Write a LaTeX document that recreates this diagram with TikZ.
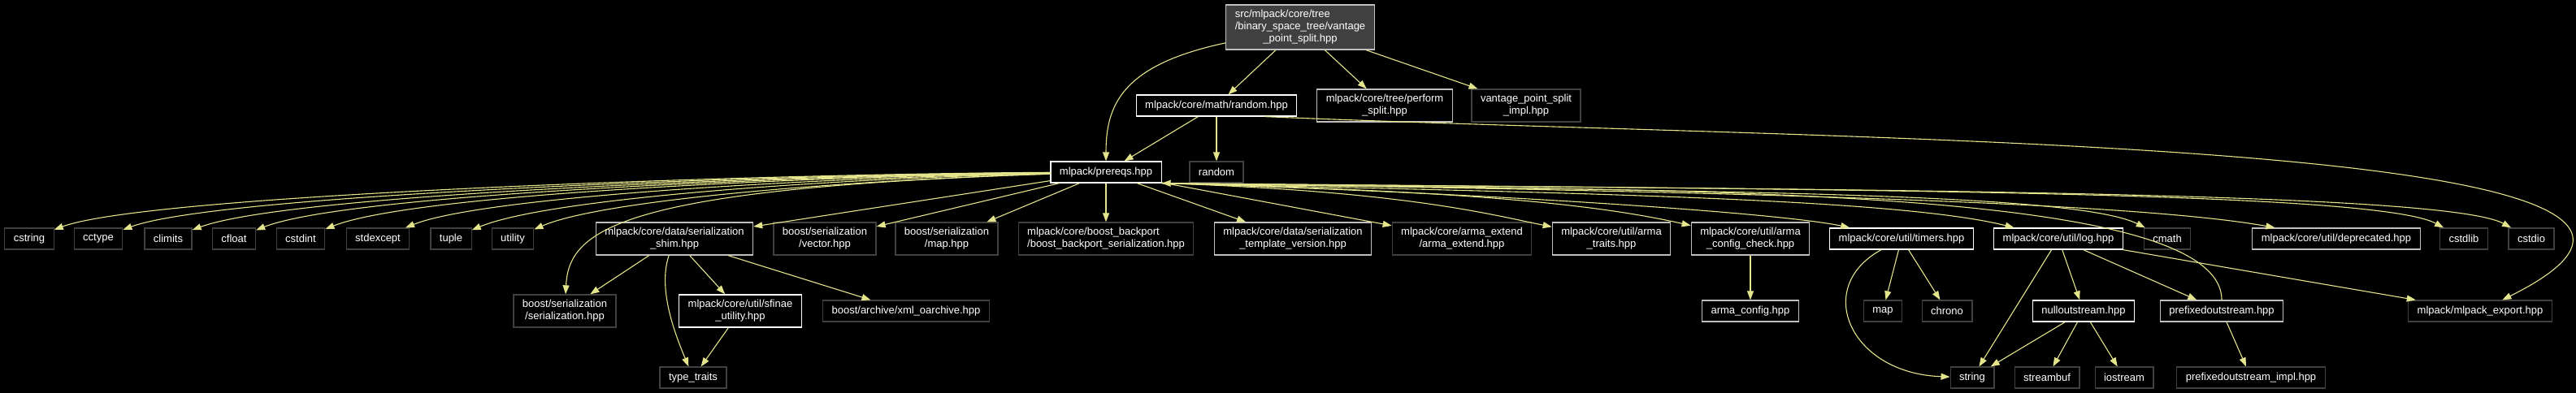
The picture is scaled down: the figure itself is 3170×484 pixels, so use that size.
\documentclass[tikz,border=0pt]{standalone}
\usepackage{fontspec}
\setmainfont{Liberation Sans}
\usetikzlibrary{arrows.meta}
\definecolor{edgecol}{RGB}{228,228,140}
\definecolor{leafgrey}{RGB}{64,64,64}
\definecolor{midgrey}{RGB}{191,191,191}

\begin{document}
\begin{tikzpicture}[x=1pt,y=-1pt,>={Triangle[length=11pt,width=8pt]},font=\fontsize{13}{15}\selectfont]
        \tikzset{box/.style={draw, fill=black, text=white, line width=1.2pt, inner xsep=11pt, inner ysep=6.5pt, minimum height=26pt, align=center},
          docbox/.style={box, draw=white},
          greybox/.style={box, draw=midgrey},
          leafbox/.style={box, draw=leafgrey},
          rootbox/.style={box, draw=midgrey, fill=leafgrey},
          dep/.style={->, draw=edgecol, line width=1.1pt}}
        \useasboundingbox (0,0) rectangle (3170,484);
        \fill[black] (0,0) rectangle (3170,484);
        % top part
        \node[rootbox] (vps) at (1600,33.5) {\rlap{src/mlpack/core/tree}\phantom{/binary\_space\_tree/vantage}\\/binary\_space\_tree/vantage\\\_point\_split.hpp};
        \node[docbox] (randomhpp) at (1497,130) {mlpack/core/math/random.hpp};
        \node[greybox] (perform) at (1704,130) {mlpack/core/tree/perform\\\_split.hpp};
        \node[leafbox] (vpsimpl) at (1878,130) {vantage\_point\_split\\\_impl.hpp};
        \node[docbox] (prereqs) at (1361,212) {mlpack/prereqs.hpp};
        \node[leafbox] (random) at (1497,212) {random};
        % includes of prereqs.hpp
        \node[leafbox] (cstring) at (36,294) {cstring};
        \node[leafbox] (cctype) at (121,294) {cctype};
        \node[leafbox] (climits) at (207,294) {climits};
        \node[leafbox] (cfloat) at (288,294) {cfloat};
        \node[leafbox] (cstdint) at (370,294) {cstdint};
        \node[leafbox] (stdexcept) at (465,294) {stdexcept};
        \node[leafbox] (tuple) at (555,294) {tuple};
        \node[leafbox] (utility) at (631,294) {utility};
        \node[greybox] (shim) at (830,294) {mlpack/core/data/serialization\\\_shim.hpp};
        \node[leafbox] (vector) at (1015,294) {boost/serialization\\/vector.hpp};
        \node[leafbox] (maphpp) at (1165,294) {boost/serialization\\/map.hpp};
        \node[leafbox] (backport) at (1361,294) {\rlap{mlpack/core/boost\_backport}\phantom{/boost\_backport\_serialization.hpp}\\/boost\_backport\_serialization.hpp};
        \node[greybox] (templver) at (1591,294) {mlpack/core/data/serialization\\\_template\_version.hpp};
        \node[leafbox] (armaext) at (1799,294) {mlpack/core/arma\_extend\\/arma\_extend.hpp};
        \node[greybox] (armatraits) at (1983,294) {mlpack/core/util/arma\\\_traits.hpp};
        \node[greybox] (armacheck) at (2154,294) {mlpack/core/util/arma\\\_config\_check.hpp};
        \node[docbox] (timers) at (2340,294) {mlpack/core/util/timers.hpp};
        \node[docbox] (log) at (2533,294) {mlpack/core/util/log.hpp};
        \node[leafbox] (cmath) at (2667,294) {cmath};
        \node[greybox] (deprecated) at (2875,294) {mlpack/core/util/deprecated.hpp};
        \node[leafbox] (cstdlib) at (3032,294) {cstdlib};
        \node[leafbox] (cstdio) at (3115,294) {cstdio};
        % third row
        \node[leafbox] (bser) at (695,383) {boost/serialization\\/serialization.hpp};
        \node[docbox] (sfinae) at (911,383) {mlpack/core/util/sfinae\\\_utility.hpp};
        \node[leafbox] (xml) at (1115,383) {boost/archive/xml\_oarchive.hpp};
        \node[greybox] (armaconfig) at (2154,383) {arma\_config.hpp};
        \node[leafbox] (map) at (2317,383) {map};
        \node[leafbox] (chrono) at (2396,383) {chrono};
        \node[docbox] (nullout) at (2564,383) {nulloutstream.hpp};
        \node[greybox] (prefixed) at (2734,383) {prefixedoutstream.hpp};
        \node[leafbox] (mlexport) at (3052,383) {mlpack/mlpack\_export.hpp};
        % bottom row
        \node[leafbox] (typetraits) at (853,465) {type\_traits};
        \node[leafbox] (string) at (2427,465) {string};
        \node[leafbox] (streambuf) at (2519,465) {streambuf};
        \node[leafbox] (iostream) at (2614,465) {iostream};
        \node[leafbox] (prefimpl) at (2770,465) {prefixedoutstream\_impl.hpp};
        % edges from the top
        \draw[dep] (vps) .. controls (1380,80) and (1361,130) .. (prereqs);
        \draw[dep] (vps) -- (randomhpp);
        \draw[dep] (vps) -- (perform);
        \draw[dep] (vps) -- (vpsimpl);
        \draw[dep] (randomhpp) -- (prereqs);
        \draw[dep] (randomhpp) -- (random);
        \draw[dep] ([xshift=-40pt]randomhpp.south east) .. controls (2300,175) and (3480,170) .. (mlexport);
        % prereqs.hpp, left side
        \draw[dep] (prereqs) .. controls +(-420,2) and +(150,-55) .. (cstring);
        \draw[dep] (prereqs) .. controls +(-410,3) and +(150,-55) .. (cctype);
        \draw[dep] (prereqs) .. controls +(-400,4) and +(150,-55) .. (climits);
        \draw[dep] (prereqs) .. controls +(-390,5) and +(140,-55) .. (cfloat);
        \draw[dep] (prereqs) .. controls +(-380,6) and +(140,-55) .. (cstdint);
        \draw[dep] (prereqs) .. controls +(-360,7) and +(130,-52) .. (stdexcept);
        \draw[dep] (prereqs) .. controls +(-340,8) and +(120,-50) .. (tuple);
        \draw[dep] (prereqs) .. controls +(-320,10) and +(110,-48) .. (utility);
        \draw[dep] (prereqs) .. controls +(-600,20) and +(5,-100) .. (bser);
        \draw[dep] (prereqs) -- (shim);
        \draw[dep] (prereqs) -- (vector);
        \draw[dep] (prereqs) -- (maphpp);
        \draw[dep] (prereqs) -- (backport);
        % prereqs.hpp, right side
        \draw[dep] (prereqs) -- (templver);
        \draw[dep] (prereqs) -- (armaext);
        \draw[dep] (prereqs.south east) .. controls +(300,10) and +(-150,-30) .. (armatraits);
        \draw[dep] (prereqs.south east) .. controls +(400,10) and +(-180,-40) .. (armacheck);
        \draw[dep] (prereqs.south east) .. controls +(400,12) and +(-150,-32) .. (timers);
        \draw[dep] (prereqs.south east) .. controls +(500,12) and +(-200,-50) .. (log);
        \draw[dep] (prereqs.south east) .. controls +(600,10) and +(-120,-60) .. (cmath);
        \draw[dep] (prereqs.south east) .. controls +(700,10) and +(-250,-45) .. (deprecated);
        \draw[dep] (prereqs.south east) .. controls +(800,8) and +(-110,-60) .. (cstdlib);
        \draw[dep] (prereqs.south east) .. controls +(800,8) and +(-110,-60) .. (cstdio);
        % serialization shim
        \draw[dep] (shim) -- (bser);
        \draw[dep] (shim) -- (sfinae);
        \draw[dep] (shim) -- (xml);
        \draw[dep] (shim) .. controls +(-20,60) and +(-25,-60) .. (typetraits);
        \draw[dep] (sfinae) -- (typetraits);
        \draw[dep] (armacheck) -- (armaconfig);
        % timers and log
        \draw[dep] (timers) .. controls +(-110,60) and +(-150,-5) .. (string);
        \draw[dep] (timers) -- (map);
        \draw[dep] (timers) -- (chrono);
        \draw[dep] (log) -- (string);
        \draw[dep] (log) -- (nullout);
        \draw[dep] (log) -- (prefixed);
        \draw[dep] (log) -- (mlexport);
        \draw[dep] (nullout) -- (string);
        \draw[dep] (nullout) -- (streambuf);
        \draw[dep] (nullout) -- (iostream);
        \draw[dep] (prefixed) .. controls +(0,-160) and +(600,10) .. (prereqs.south east);
        \draw[dep] (prefixed) -- (prefimpl);
    \end{tikzpicture}
\end{document}
